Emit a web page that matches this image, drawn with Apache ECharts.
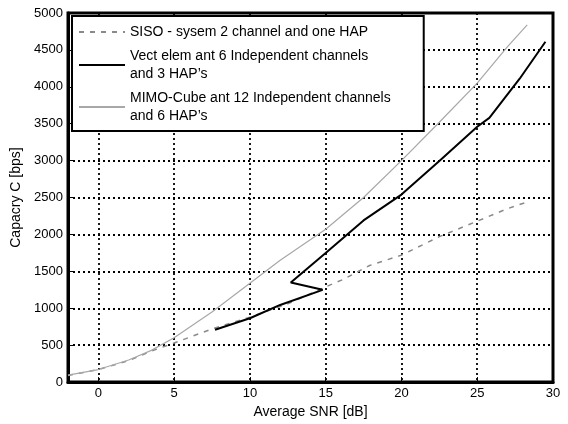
<!DOCTYPE html>
<html>
<head>
<meta charset="utf-8">
<script src="https://cdn.jsdelivr.net/npm/echarts@6/dist/echarts.min.js"></script>
<style>html,body{margin:0;background:#fff}#chart{width:568px;height:424px}</style>
</head>
<body>
<div id="chart"></div>
<script>
const snrTicks = [0, 5, 10, 15, 20, 25, 30]

const sisoSnr = [-2, 0, 2, 3.5, 5, 7.5, 10, 12.5, 15, 16.2, 17.9, 20, 22.5, 25, 27, 28.3]
const sisoCap = [90, 170, 290, 420, 530, 720, 880, 1060, 1290, 1395, 1580, 1720, 1970, 2180, 2350, 2440]

// the vect curve folds back near 13-15 dB, points stay in drawing order
const vectSnr = [7.7, 10, 12, 14.8, 12.7, 15, 17.5, 20, 22.5, 25, 25.8, 27.8, 29.5]
const vectCap = [710, 865, 1045, 1250, 1350, 1750, 2190, 2540, 2995, 3460, 3580, 4110, 4610]

const mimoSnr = [-2, 0, 2, 3.5, 5, 7.5, 10, 12, 15, 17.5, 20, 22.5, 25, 27, 28.3]
const mimoCap = [95, 170, 300, 430, 600, 950, 1340, 1650, 2070, 2500, 3000, 3520, 4050, 4545, 4840]

const names = [
  'SISO - sysem 2 channel and one HAP',
  'Vect elem ant 6 Independent channels\nand 3 HAP\u2019s',
  'MIMO-Cube ant 12 Independent channels\nand 6 HAP\u2019s',
]

const font = 'Liberation Sans, Arial, sans-serif'

function pairs(xs, ys) {
  return xs.map((x, i) => [x, ys[i]])
}

const chart = echarts.init(document.getElementById('chart'))

chart.setOption({
  animation: false,
  grid: {
    left: 68,
    right: 15,
    top: 13,
    bottom: 38,
    show: true,
    borderColor: '#000',
    borderWidth: 3,
  },
  legend: {
    orient: 'vertical',
    left: 72,
    top: 16,
    padding: [7, 33, 6, 6],
    itemGap: 6,
    itemWidth: 46,
    itemHeight: 14,
    backgroundColor: '#fff',
    borderColor: '#000',
    borderWidth: 2,
    borderRadius: 0,
    // hide the round marker, keep only the line sample
    itemStyle: { opacity: 0 },
    textStyle: {
      fontFamily: font,
      fontSize: 14,
      color: '#000',
      lineHeight: 18,
    },
  },
  xAxis: {
    type: 'value',
    min: -2,
    max: 30,
    name: 'Average SNR [dB]',
    nameLocation: 'middle',
    nameGap: 20,
    nameTextStyle: { fontFamily: font, fontSize: 14, color: '#000' },
    axisLine: { show: true, onZero: false, lineStyle: { color: '#000', width: 3 } },
    axisTick: { customValues: snrTicks, inside: true, length: 5, lineStyle: { color: '#000' } },
    axisLabel: { customValues: snrTicks, color: '#000', fontFamily: font, fontSize: 13, margin: 5 },
    splitLine: { show: true, lineStyle: { color: '#000', type: [2, 3], width: 1.8 } },
  },
  yAxis: {
    type: 'value',
    min: 0,
    max: 5000,
    interval: 500,
    name: 'Capacry C [bps]',
    nameLocation: 'middle',
    nameGap: 42,
    nameTextStyle: { fontFamily: font, fontSize: 14, color: '#000' },
    axisLine: { show: true, onZero: false, lineStyle: { color: '#000', width: 3 } },
    axisTick: { inside: true, length: 5, lineStyle: { color: '#000' } },
    axisLabel: {
      color: '#000',
      fontFamily: font,
      fontSize: 13,
      margin: 5,
      formatter: (v) => String(v),
    },
    splitLine: { show: true, lineStyle: { color: '#000', type: [2, 3], width: 1.8 } },
  },
  series: [
    {
      name: names[0],
      type: 'line',
      symbol: 'none',
      color: '#8a8a8a',
      lineStyle: { color: '#8a8a8a', width: 1.5, type: [5, 6] },
      data: pairs(sisoSnr, sisoCap),
    },
    {
      name: names[1],
      type: 'line',
      symbol: 'none',
      color: '#000',
      lineStyle: { color: '#000', width: 2 },
      data: pairs(vectSnr, vectCap),
    },
    {
      name: names[2],
      type: 'line',
      symbol: 'none',
      color: '#a8a8a8',
      lineStyle: { color: '#a8a8a8', width: 1.2 },
      data: pairs(mimoSnr, mimoCap),
    },
  ],
})
</script>
</body>
</html>
